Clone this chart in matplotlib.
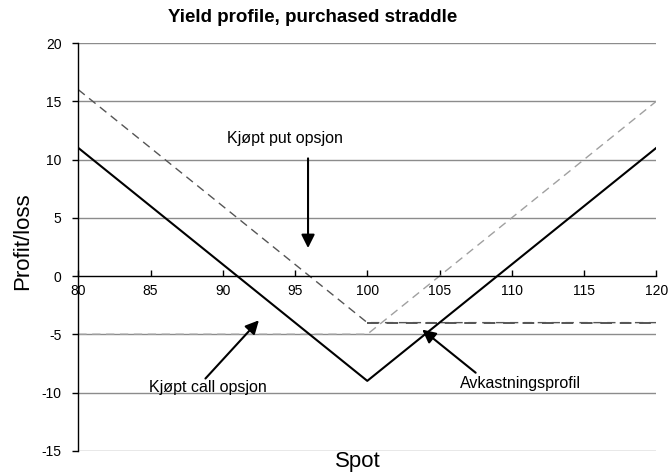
import numpy as np
import matplotlib.pyplot as plt

spot = [80, 100, 120]
put_opt = [16, -4, -4]
call_opt = [-5, -5, 15]
straddle = [11, -9, 11]

xticks = [80, 85, 90, 95, 100, 105, 110, 115, 120]
yticks = [-15, -10, -5, 0, 5, 10, 15, 20]

plt.rcParams['font.family'] = ['Liberation Sans', 'DejaVu Sans']

fig = plt.figure(figsize=(6.69, 4.73), dpi=100)
ax = fig.add_axes([0.117, 0.047, 0.864, 0.862])

for yv in yticks:
    if yv != 0:
        ax.axhline(yv, color='#8c8c8c', lw=1.0, zorder=0)

ax.plot(spot, call_opt, color='#a0a0a0', lw=1.0, ls=(0, (6, 4)), zorder=2)
ax.plot(spot, put_opt, color='#555555', lw=1.0, ls=(0, (6, 4)), zorder=2)
ax.plot(spot[1:], put_opt[1:], color='#555555', lw=1.4, ls=(0, (6, 4)), zorder=2)
ax.plot(spot, straddle, color='black', lw=1.5, zorder=3)

ax.set_xlim(80, 120)
ax.set_ylim(-15, 20)
ax.set_xticks(xticks)
ax.set_yticks(yticks)
ax.set_yticklabels([str(v) for v in yticks])

ax.spines['top'].set_visible(False)
ax.spines['right'].set_visible(False)
ax.spines['bottom'].set_position(('data', 0))
ax.spines['bottom'].set_linewidth(1.0)
ax.spines['left'].set_linewidth(1.0)
ax.tick_params(axis='both', labelsize=10, length=4, width=1)
ax.tick_params(axis='x', direction='in', pad=6)
ax.tick_params(axis='y', direction='out', pad=8)

arrow = dict(arrowstyle='-|>', color='black', lw=1.5, mutation_scale=20, shrinkA=0, shrinkB=0)
ax.annotate('', xy=(95.9, 2.4), xytext=(95.9, 10.1), arrowprops=arrow)
ax.text(94.3, 11.8, 'Kjøpt put opsjon', fontsize=11.5, ha='center', va='center')
ax.annotate('', xy=(92.5, -3.8), xytext=(88.8, -8.8), arrowprops=arrow)
ax.text(89.0, -9.6, 'Kjøpt call opsjon', fontsize=11.5, ha='center', va='center')
ax.annotate('', xy=(103.8, -4.6), xytext=(107.5, -8.3), arrowprops=arrow)
ax.text(110.6, -9.2, 'Avkastningsprofil', fontsize=11.5, ha='center', va='center')

fig.text(0.468, 0.962, 'Yield profile, purchased straddle', fontsize=13.5,
         fontweight='bold', ha='center', va='center')
fig.text(0.034, 0.49, 'Profit/loss', fontsize=16, rotation=90, ha='center', va='center')
fig.text(0.535, 0.024, 'Spot', fontsize=16, ha='center', va='center')

fig.savefig('out.png', dpi=100)
